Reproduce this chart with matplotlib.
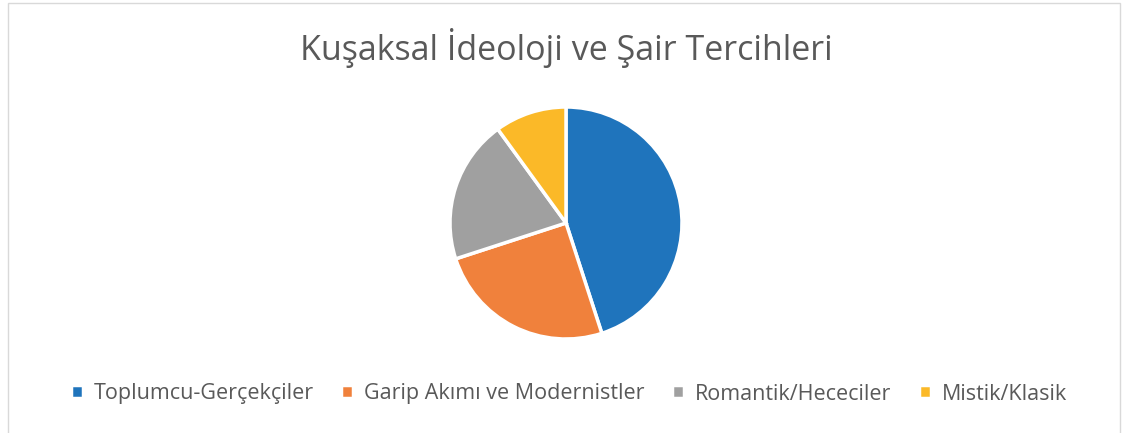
import matplotlib.pyplot as plt
from matplotlib.patches import Rectangle

labels = ['Toplumcu-Gerçekçiler', 'Garip Akımı ve Modernistler', 'Romantik/Hececiler', 'Mistik/Klasik']
values = [45, 25, 20, 10]
colors = ['#1f74bc', '#f0813c', '#a0a0a0', '#fbb928']

plt.rcParams['font.family'] = ['Open Sans', 'DejaVu Sans']

W, H = 1129, 433
fig = plt.figure(figsize=(W / 100, H / 100), dpi=100)

# chart border
fig.patches.append(Rectangle((8 / W, -0.01), 1112 / W, 1 - 3 / H + 0.01,
                             transform=fig.transFigure, fill=False,
                             edgecolor='#d9d9d9', linewidth=1))

fig.text(566 / W, 1 - 48 / H, 'Kuşaksal İdeoloji ve Şair Tercihleri',
         ha='center', va='center', fontsize=24.5, color='#595959')

# pie
cx, cy, r = 566, 223, 116
ax = fig.add_axes([(cx - r) / W, (H - cy - r) / H, 2 * r / W, 2 * r / H])
wedges, _ = ax.pie(values, colors=colors, startangle=90, counterclock=False,
                   wedgeprops=dict(edgecolor='white', linewidth=2.5))
ax.set_xlim(-1.0, 1.0)
ax.set_ylim(-1.0, 1.0)
ax.set_aspect('equal')
ax.axis('off')

fig.legend(wedges, labels, loc='center', bbox_to_anchor=(569 / W, 1 - 394 / H),
           ncol=4, frameon=False, fontsize=15.5, handlelength=0.55, handleheight=0.55,
           handletextpad=0.5, columnspacing=1.3, labelcolor='#595959')

fig.savefig('out.png', dpi=100)
